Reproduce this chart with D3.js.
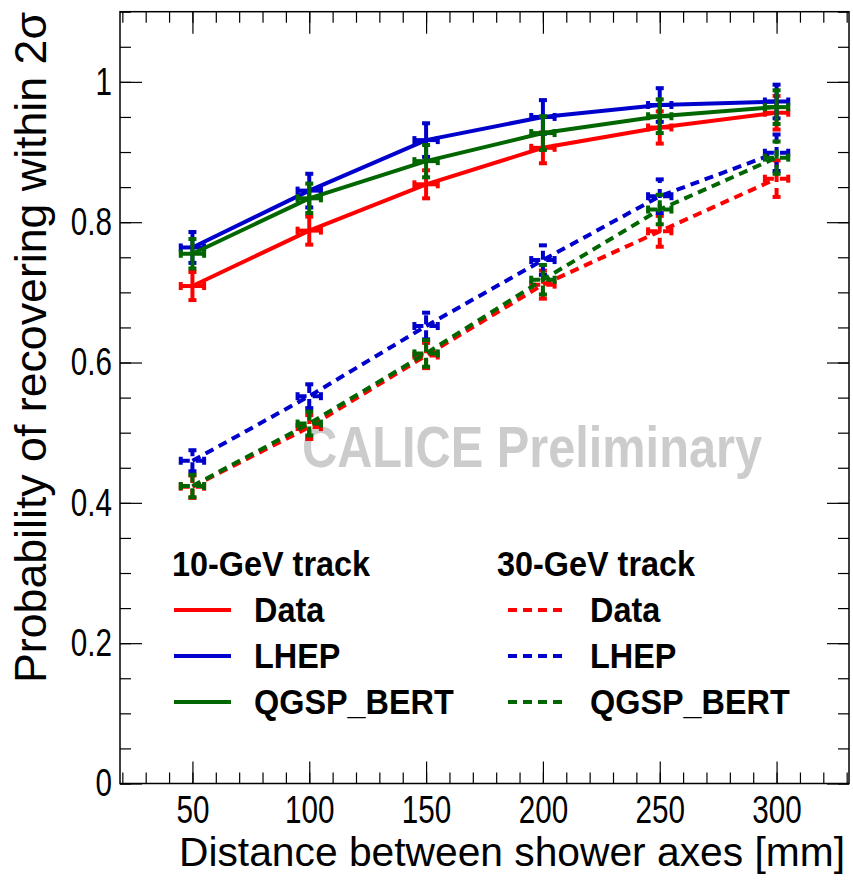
<!DOCTYPE html>
<html>
<head>
<meta charset="utf-8">
<script src="https://cdn.jsdelivr.net/npm/d3@7"></script>
<style>
  body { margin: 0; background: white; }
  svg { display: block; font-family: "Liberation Sans", Arial, sans-serif; }
</style>
</head>
<body>
<svg id="graph"></svg>
<script>
// distance between shower axes [mm]
var distances = [50, 100, 150, 200, 250, 300];
var xErr = 5;

// 10-GeV track
var data10 = [0.709, 0.788, 0.854, 0.906, 0.935, 0.956];
var data10Err = [0.020, 0.020, 0.020, 0.022, 0.023, 0.024];
var lhep10 = [0.764, 0.845, 0.917, 0.950, 0.967, 0.972];
var lhep10Err = [0.022, 0.024, 0.024, 0.024, 0.024, 0.024];
var qgsp10 = [0.755, 0.834, 0.887, 0.927, 0.951, 0.964];
var qgsp10Err = [0.021, 0.021, 0.023, 0.024, 0.024, 0.024];

// 30-GeV track
var data30 = [0.423, 0.508, 0.610, 0.711, 0.787, 0.862];
var data30Err = [0.016, 0.017, 0.018, 0.020, 0.022, 0.026];
var lhep30 = [0.460, 0.552, 0.652, 0.746, 0.837, 0.899];
var lhep30Err = [0.015, 0.017, 0.019, 0.021, 0.024, 0.026];
var qgsp30 = [0.424, 0.513, 0.613, 0.718, 0.818, 0.892];
var qgsp30Err = [0.016, 0.017, 0.019, 0.021, 0.021, 0.023];

var xTicks = [50, 100, 150, 200, 250, 300];
var yTicks = [0, 0.2, 0.4, 0.6, 0.8, 1];
var legendNames = ["Data", "LHEP", "QGSP_BERT"];

var red = "#ff0000", blue = "#0000cc", green = "#006600";

var screen = { width: 853, height: 882 };
var frame = { left: 120, right: 849, top: 11.7, bottom: 783.5 };

var svg = d3.select("#graph")
  .attr("width", screen.width)
  .attr("height", screen.height);

var x = d3.scaleLinear().domain([19, 331]).range([frame.left, frame.right]);
var y = d3.scaleLinear().domain([0, 1.1]).range([frame.bottom, frame.top]);

var minorX = d3.range(20, 331, 10);
var minorY = d3.range(0, 1.1001, 0.05);

// ticks on all four sides, pointing inward
function tickAxis(axis, tr, size, values) {
  var g = svg.append("g")
    .attr("transform", tr)
    .call(axis.tickValues(values).tickSize(size).tickFormat(""));
  g.select(".domain").remove();
  g.selectAll("line").attr("stroke", "black").attr("stroke-width", 1.2);
  return g;
}
tickAxis(d3.axisBottom(x), "translate(0," + frame.bottom + ")", -11, minorX);
tickAxis(d3.axisBottom(x), "translate(0," + frame.bottom + ")", -22, xTicks);
tickAxis(d3.axisTop(x), "translate(0," + frame.top + ")", -11, minorX);
tickAxis(d3.axisTop(x), "translate(0," + frame.top + ")", -22, xTicks);
tickAxis(d3.axisLeft(y), "translate(" + frame.left + ",0)", -11, minorY);
tickAxis(d3.axisLeft(y), "translate(" + frame.left + ",0)", -22, yTicks);
tickAxis(d3.axisRight(y), "translate(" + frame.right + ",0)", -11, minorY);
tickAxis(d3.axisRight(y), "translate(" + frame.right + ",0)", -22, yTicks);

// tick labels
var xLab = svg.append("g")
  .attr("transform", "translate(0," + frame.bottom + ")")
  .call(d3.axisBottom(x).tickValues(xTicks).tickSize(0).tickPadding(13)
        .tickFormat(function(d){ return d; }));
xLab.select(".domain").remove();
xLab.selectAll("text")
  .attr("font-size", 38)
  .attr("font-family", "Liberation Sans, Arial, sans-serif")
  .attr("fill", "black")
  .attr("transform", "scale(0.78,1)");

var yLab = svg.append("g")
  .attr("transform", "translate(" + frame.left + ",0)")
  .call(d3.axisLeft(y).tickValues(yTicks).tickSize(0).tickPadding(8)
        .tickFormat(function(d){ return String(d); }));
yLab.select(".domain").remove();
yLab.selectAll("text")
  .attr("font-size", 38)
  .attr("font-family", "Liberation Sans, Arial, sans-serif")
  .attr("fill", "black")
  .attr("transform", "scale(0.78,1)")
  .attr("x", -8 / 0.78);

svg.append("rect")
  .attr("x", frame.left)
  .attr("y", frame.top)
  .attr("width", frame.right - frame.left)
  .attr("height", frame.bottom - frame.top)
  .attr("fill", "none")
  .style("stroke", "black")
  .style("stroke-width", 1.5);

// axis titles
svg.append("text")
  .text("Distance between shower axes [mm]")
  .attr("x", 845)
  .attr("y", 866)
  .attr("text-anchor", "end")
  .attr("font-size", 41)
  .attr("textLength", 666)
  .attr("lengthAdjust", "spacingAndGlyphs");

svg.append("text")
  .text("Probability of recovering within 2σ")
  .attr("transform", "translate(46,12) rotate(-90)")
  .attr("text-anchor", "end")
  .attr("font-size", 44)
  .attr("textLength", 671)
  .attr("lengthAdjust", "spacingAndGlyphs");

// watermark
svg.append("text")
  .text("CALICE Preliminary")
  .attr("x", 302)
  .attr("y", 467)
  .attr("font-size", 58)
  .attr("font-weight", "bold")
  .attr("fill", "#cccccc")
  .attr("textLength", 460)
  .attr("lengthAdjust", "spacingAndGlyphs");

// series
var series = [
  { vals: data30, err: data30Err, color: red,   dash: "9,6" },
  { vals: lhep30, err: lhep30Err, color: blue,  dash: "9,6" },
  { vals: qgsp30, err: qgsp30Err, color: green, dash: "9,6" },
  { vals: data10, err: data10Err, color: red,   dash: null },
  { vals: lhep10, err: lhep10Err, color: blue,  dash: null },
  { vals: qgsp10, err: qgsp10Err, color: green, dash: null }
];

var line = d3.line()
  .x(function(d){ return x(d.x); })
  .y(function(d){ return y(d.v); });

var capHalf = 4;

series.forEach(function(s) {
  var pts = distances.map(function(d, i){ return { x: d, v: s.vals[i], e: s.err[i] }; });
  var g = svg.append("g")
    .attr("fill", "none")
    .attr("stroke", s.color)
    .attr("stroke-width", 4)
    .attr("stroke-dasharray", s.dash);

  g.append("path").datum(pts).attr("d", line);

  var bars = g.selectAll("g.err")
    .data(pts)
    .enter()
    .append("g")
    .classed("err", true);

  // vertical error
  bars.append("line")
    .attr("x1", function(d){ return x(d.x); })
    .attr("x2", function(d){ return x(d.x); })
    .attr("y1", function(d){ return y(d.v - d.e); })
    .attr("y2", function(d){ return y(d.v + d.e); });
  // horizontal error
  bars.append("line")
    .attr("x1", function(d){ return x(d.x - xErr); })
    .attr("x2", function(d){ return x(d.x + xErr); })
    .attr("y1", function(d){ return y(d.v); })
    .attr("y2", function(d){ return y(d.v); });
  // end caps
  [-1, 1].forEach(function(sgn) {
    bars.append("line")
      .attr("x1", function(d){ return x(d.x) - capHalf; })
      .attr("x2", function(d){ return x(d.x) + capHalf; })
      .attr("y1", function(d){ return y(d.v + sgn * d.e); })
      .attr("y2", function(d){ return y(d.v + sgn * d.e); })
      .style("stroke-dasharray", "none");
    bars.append("line")
      .attr("x1", function(d){ return x(d.x + sgn * xErr); })
      .attr("x2", function(d){ return x(d.x + sgn * xErr); })
      .attr("y1", function(d){ return y(d.v) - capHalf; })
      .attr("y2", function(d){ return y(d.v) + capHalf; })
      .style("stroke-dasharray", "none");
  });
});

// legend
var legendFont = 36, legendScale = 0.9;
function legendText(txt, lx, ly) {
  svg.append("text")
    .text(txt)
    .attr("transform", "translate(" + lx + "," + ly + ") scale(" + legendScale + ",1)")
    .attr("font-size", legendFont)
    .attr("font-weight", "bold");
}

var columns = [
  { x: 172, lineX: 174, textX: 254, title: "10-GeV track", dash: null },
  { x: 497, lineX: 508, textX: 590, title: "30-GeV track", dash: "9,6" }
];
var legendColors = [red, blue, green];
var rowY = [610, 656, 702];

columns.forEach(function(c) {
  legendText(c.title, c.x, 576);
  legendNames.forEach(function(name, i) {
    svg.append("line")
      .attr("x1", c.lineX)
      .attr("x2", c.lineX + 57)
      .attr("y1", rowY[i])
      .attr("y2", rowY[i])
      .attr("stroke", legendColors[i])
      .attr("stroke-width", 4)
      .attr("stroke-dasharray", c.dash);
    legendText(name, c.textX, rowY[i] + 12);
  });
});
</script>
</body>
</html>
